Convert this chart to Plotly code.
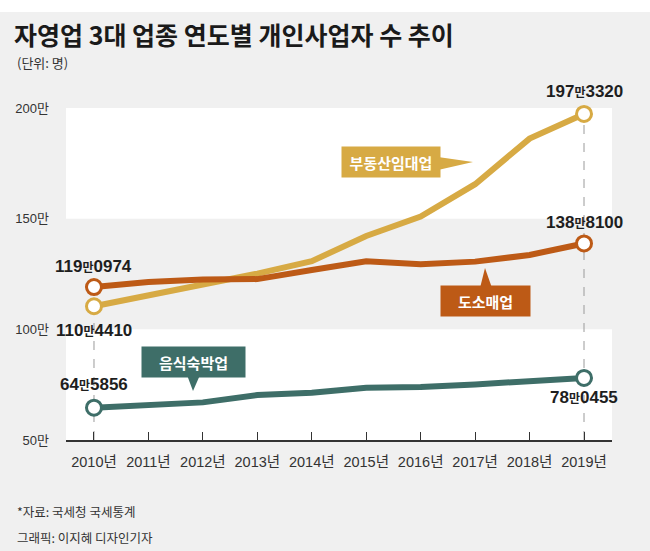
import plotly.graph_objects as go

# data (만 명)
years = list(range(2010, 2020))
year_labels = [f"{y}년" for y in years]
realty = [110.4410, 115.3, 120.6, 125.2, 130.8, 142.2, 151.0, 165.6, 186.2, 197.3320]
wholesale = [119.0974, 121.4, 122.5, 122.7, 126.8, 130.8, 129.4, 130.6, 133.6, 138.8100]
food = [64.5856, 65.9, 67.0, 70.3, 71.4, 73.6, 74.0, 75.1, 76.4, 78.0455]
y_ticks = [50, 100, 150, 200]

GOLD = "#d7aa44"
ORANGE = "#bd5a16"
TEAL = "#3e6e68"
BG = "#f0f0f0"
KR = "Noto Sans CJK KR"
NUM = "Liberation Sans, Noto Sans CJK KR"

# layout geometry (pixels)
W, H = 650, 551
L, R, T, B = 66, 38, 90, 111
X_RANGE = [2009.486, 2019.514]
Y_RANGE = [50, 50 + (H - T - B) / 2.213]


def px_x(px):
    return X_RANGE[0] + (px - L) / (W - L - R) * (X_RANGE[1] - X_RANGE[0])


def px_y(py):
    return Y_RANGE[0] + (H - B - py) / (H - T - B) * (Y_RANGE[1] - Y_RANGE[0])


def paper_x(px):
    return (px - L) / (W - L - R)


def paper_y(py):
    return (H - B - py) / (H - T - B)


def man_label(v):
    n = int(round(v * 10000))
    return f"<b>{n // 10000}<span style='font-size:12px'>만</span>{n % 10000:04d}</b>"


fig = go.Figure()

series = [(realty, GOLD), (wholesale, ORANGE), (food, TEAL)]
for vals, col in series:
    fig.add_trace(go.Scatter(x=years, y=vals, mode="lines",
                             line=dict(color=col, width=6), hoverinfo="skip"))
for vals, col in series:
    fig.add_trace(go.Scatter(x=[years[0], years[-1]], y=[vals[0], vals[-1]], mode="markers",
                             marker=dict(size=15, color="white", line=dict(color=col, width=3)),
                             hoverinfo="skip"))

shapes = []
# white bands
for y0, y1 in [(50, 100), (150, 200)]:
    shapes.append(dict(type="rect", xref="paper", yref="y", x0=0, x1=1, y0=y0, y1=y1,
                       fillcolor="white", line=dict(width=0), layer="below"))
# white strip on top
shapes.append(dict(type="rect", xref="paper", yref="paper", x0=paper_x(0), x1=paper_x(W),
                   y0=paper_y(12), y1=paper_y(0), fillcolor="white", line=dict(width=0)))
# dashed guides
for i in [0, -1]:
    top = max(realty[i], wholesale[i], food[i])
    shapes.append(dict(type="line", xref="x", yref="y", x0=years[i], x1=years[i], y0=50, y1=top,
                       line=dict(color="#9a9a9a", width=1, dash="dash"), layer="below"))


def tri(pts, col):
    p = " L ".join(f"{px_x(a)},{px_y(b)}" for a, b in pts)
    return dict(type="path", xref="x", yref="y", path=f"M {p} Z",
                fillcolor=col, line=dict(width=0))


shapes.append(tri([(438, 157), (473, 162), (438, 170)], GOLD))
shapes.append(tri([(480, 288), (485, 268), (492, 288)], ORANGE))
shapes.append(tri([(187, 375), (193, 391), (200, 375)], TEAL))

annotations = []
# value labels
ends = [
    (years[0], realty[0], -24), (years[-1], realty[-1], 22),
    (years[0], wholesale[0], 21), (years[-1], wholesale[-1], 21),
    (years[0], food[0], 23), (years[-1], food[-1], -20),
]
for x, v, dy in ends:
    annotations.append(dict(x=x, y=v, xref="x", yref="y", text=man_label(v), showarrow=False,
                            yshift=dy, font=dict(family=NUM, size=17, color="#1e1e1e")))

# series name boxes
boxes = [
    ("부동산임대업", 391, 162, 94, GOLD),
    ("도소매업", 485, 301, 85, ORANGE),
    ("음식숙박업", 193, 362, 99, TEAL),
]
for txt, bx, by, bw, col in boxes:
    annotations.append(dict(x=px_x(bx), y=px_y(by), xref="x", yref="y", text=f"<b>{txt}</b>",
                            showarrow=False, bgcolor=col, width=bw, height=26, borderpad=2,
                            font=dict(family=KR, size=15, color="white")))

# subtitle and footer
for txt, py, sz in [("(단위: 명)", 63, 13), ("*자료: 국세청 국세통계", 511, 12.5),
                    ("그래픽: 이지혜 디자인기자", 537, 12.5)]:
    annotations.append(dict(x=paper_x(15), y=paper_y(py), xref="paper", yref="paper", text=txt,
                            showarrow=False, xanchor="left", yanchor="middle",
                            font=dict(family=KR, size=sz, color="#333333")))

fig.update_layout(
    width=W, height=H,
    margin=dict(l=L, r=R, t=T, b=B),
    paper_bgcolor=BG, plot_bgcolor=BG,
    showlegend=False,
    title=dict(text="<b>자영업 3대 업종 연도별 개인사업자 수 추이</b>", x=14 / W, xanchor="left",
               y=1 - 36 / H, yanchor="middle", yref="container",
               font=dict(family=KR, size=25, color="#1a1a1a")),
    shapes=shapes, annotations=annotations,
)
fig.update_xaxes(range=X_RANGE, tickvals=years, ticktext=year_labels, showgrid=False,
                 zeroline=False, showline=True, linecolor="#333333", linewidth=1.5,
                 ticks="inside", ticklen=8, tickcolor="#333333", tickwidth=1.2,
                 ticklabelstandoff=8, tickfont=dict(family=NUM, size=14.5, color="#333333"))
fig.update_yaxes(range=Y_RANGE, tickvals=y_ticks, ticktext=[f"{v}만" for v in y_ticks],
                 showgrid=False, zeroline=False, showline=False, ticks="",
                 ticklabelstandoff=16, tickfont=dict(family=NUM, size=13, color="#333333"))

# page has a default body margin; remove it so the figure fills the window
fig.write_html("out.html", config={"displayModeBar": False},
               post_script="document.body.style.margin='0';")
